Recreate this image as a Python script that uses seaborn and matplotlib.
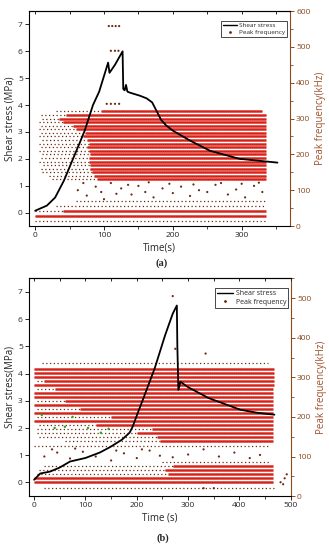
import numpy as np
import matplotlib
matplotlib.use("Agg")
import matplotlib.pyplot as plt
import seaborn as sns
from matplotlib.lines import Line2D
from matplotlib.ticker import MultipleLocator

sns.set_style("white")
plt.rcParams['font.family'] = ['Open Sans', 'DejaVu Sans']
plt.rcParams['font.size'] = 6

BROWN = '#8B4A1E'
BAND_RED = '#e2261e'
DOT_DARK = '#6b2a10'

# ---------------- data: panel (a) ----------------
a_time = [0, 17, 29, 42, 55, 64, 72, 84, 93, 106, 108, 116, 127, 128, 130, 132, 134,
          138, 152, 162, 170, 175, 183, 190, 200, 225, 254, 297, 352]
a_stress = [0.07, 0.26, 0.56, 1.2, 2.0, 2.55, 3.05, 4.0, 4.5, 5.58, 5.2, 5.5, 6.0, 4.6,
            4.55, 4.75, 4.5, 4.46, 4.35, 4.25, 4.1, 3.85, 3.45, 3.25, 3.05, 2.68, 2.3, 2.0, 1.86]

# frequency bands (kHz): solid segment [dense_start, end], dotted segment [sparse_start, dense_start]
a_band_lvl = [130, 140, 150, 160, 170, 180, 190, 200, 210, 220, 230, 240, 250, 260,
              270, 280, 290, 300, 310, 320]
a_band_sparse0 = [25, 20, 10, 8, 12, 5, 8, 10, 5, 8, 5, 10, 5, 8, 5, 8, 5, 10, 8, 30]
a_band_dense0 = [90, 85, 82, 80, 80, 78, 78, 80, 78, 76, 78, 75, 70, 72, 60, 55, 40, 35, 45, 95]
a_band_end = [335, 335, 335, 335, 335, 335, 335, 335, 335, 335, 335, 335, 335, 335,
              335, 335, 335, 335, 335, 330]

a_low_lvl = [15, 28, 42, 56, 70]
a_low_sparse0 = [0, 0, 0, 30, 60]
a_low_dense0 = [335, 0, 40, 335, 335]
a_low_end = [335, 335, 335, 335, 335]

a_pt_time = [62, 75, 88, 96, 110, 118, 125, 140, 150, 160, 172, 185, 200, 212, 225, 238,
             250, 262, 280, 292, 305, 318, 330, 70, 100, 135, 165, 195, 230, 270, 300, 325,
             107, 112, 117, 122, 110, 116, 121, 104, 110, 116, 122]
a_pt_freq = [100, 85, 110, 95, 120, 90, 105, 88, 112, 95, 80, 105, 92, 110, 84, 100,
             95, 115, 88, 102, 80, 112, 95, 120, 75, 115, 122, 118, 116, 120, 118, 121,
             558, 558, 558, 558, 489, 489, 489, 341, 341, 341, 341]

# ---------------- data: panel (b) ----------------
b_time = [0, 12, 31, 50, 70, 100, 128, 148, 171, 186, 192, 202, 212, 235, 255, 270,
          278, 279, 281, 285, 300, 340, 402, 435, 468]
b_stress = [0.1, 0.33, 0.4, 0.55, 0.77, 0.9, 1.1, 1.3, 1.57, 1.83, 2.05, 2.56, 3.05,
            4.2, 5.4, 6.2, 6.5, 5.0, 3.4, 3.7, 3.5, 3.1, 2.67, 2.56, 2.49]

b_band_lvl = [140, 150, 160, 170, 180, 190, 200, 210, 220, 230, 240, 250, 260, 270,
              280, 290, 300, 310, 320]
b_band_sparse0 = [60, 10, 5, 5, 10, 5, 5, 5, 5, 5, 5, 5, 5, 5, 5, 5, 5, 5, 5]
b_band_dense0 = [245, 240, 200, 230, 120, 0, 150, 0, 90, 0, 60, 0, 0, 40, 0, 20, 0, 0, 0]
b_band_end = [465, 465, 465, 465, 465, 465, 465, 465, 465, 465, 465, 465, 465, 465,
              468, 468, 468, 468, 468]

b_low_lvl = [20, 35, 45, 55, 65, 75, 85, 127, 335]
b_low_sparse0 = [20, 0, 0, 5, 10, 20, 250, 0, 15]
b_low_dense0 = [480, 0, 0, 260, 255, 270, 480, 480, 480]
b_low_end = [470, 465, 465, 465, 465, 465, 460, 460, 455]

b_pt_time = [20, 45, 70, 95, 120, 150, 175, 200, 225, 245, 270, 300, 330, 360, 390, 420, 440,
             35, 80, 160, 210, 270, 275, 334, 330, 350, 480, 488, 492, 485]
b_pt_freq = [100, 110, 95, 112, 100, 90, 108, 96, 115, 102, 98, 105, 118, 100, 110, 96, 104,
             118, 120, 115, 118, 505, 372, 360, 20, 20, 35, 45, 55, 30]

b_green_time = [15, 40, 60, 75, 105, 130, 145]
b_green_freq = [205, 172, 175, 200, 172, 160, 170]


def draw_bands(ax2, lvl, sparse0, dense0, end):
    for f, s0, d0, e in zip(lvl, sparse0, dense0, end):
        if d0 > s0:
            ax2.hlines(f, s0, min(d0, e), colors=DOT_DARK, lw=0.9,
                       linestyles=(0, (1, 2.0)), zorder=2)
        if d0 < e:
            ax2.hlines(f, d0, e, colors=BAND_RED, lw=1.8, zorder=2)
            ax2.hlines(f, d0, e, colors=DOT_DARK, lw=0.6,
                       linestyles=(0, (1, 1.6)), alpha=0.6, zorder=3)


def panel(rect, t, s, bands, lows, pts, xlim, xmaj, fmax, xlabel, ylabel, legend_fs, green=None):
    ax = fig.add_axes(rect)
    ax2 = ax.twinx()
    ax.set_zorder(ax2.get_zorder() + 1)
    ax.patch.set_visible(False)

    draw_bands(ax2, *bands)
    draw_bands(ax2, *lows)
    sns.scatterplot(x=pts[0], y=pts[1], ax=ax2, s=2.5, color=DOT_DARK,
                    edgecolor='none', zorder=3)
    if green is not None:
        sns.scatterplot(x=green[0], y=green[1], ax=ax2, s=3, color='#22aa22',
                        edgecolor='none', zorder=3)

    sns.lineplot(x=t, y=s, ax=ax, color='black', lw=1.3, sort=False, estimator=None, zorder=5)

    ax.set_xlim(*xlim)
    ax.set_ylim(-0.5, 7.5)
    ax2.set_ylim(0, fmax)
    ax.xaxis.set_major_locator(MultipleLocator(xmaj))
    ax.xaxis.set_minor_locator(MultipleLocator(xmaj / 2))
    ax.yaxis.set_major_locator(MultipleLocator(1))
    ax2.yaxis.set_major_locator(MultipleLocator(100))
    ax2.yaxis.set_minor_locator(MultipleLocator(50))

    ax.tick_params(axis='both', which='major', direction='out', length=3, width=0.7,
                   labelsize=6, pad=1.5, bottom=True, left=True)
    ax.tick_params(axis='x', which='minor', direction='out', length=2, width=0.6, bottom=True)
    ax2.tick_params(axis='y', which='major', direction='out', length=3, width=0.7,
                    colors=BROWN, labelsize=6, pad=1.5)
    ax2.tick_params(axis='y', which='minor', direction='out', length=2, width=0.6, colors=BROWN)

    top = ax.secondary_xaxis('top')
    top.xaxis.set_major_locator(MultipleLocator(xmaj / 2))
    top.tick_params(direction='in', length=2.5, width=0.7, labeltop=False)

    for sp in ['left', 'bottom', 'top']:
        ax.spines[sp].set_linewidth(0.8)
        ax.spines[sp].set_color('black')
    ax.spines['right'].set_visible(False)
    ax2.spines['right'].set_color(BROWN)
    ax2.spines['right'].set_linewidth(0.8)
    for sp in ['left', 'bottom', 'top']:
        ax2.spines[sp].set_visible(False)

    ax.set_xlabel(xlabel, fontsize=7, labelpad=2)
    ax.set_ylabel(ylabel, fontsize=7, labelpad=2)
    ax2.set_ylabel('Peak frequency(kHz)', fontsize=7, color='#a0522d', labelpad=3)
    ax.grid(False)
    ax2.grid(False)

    handles = [Line2D([], [], color='black', lw=1),
               Line2D([], [], ls='none', marker='.', ms=2, color=DOT_DARK)]
    ax.legend(handles, ['Shear stress', 'Peak frequency'], loc='upper right',
              fontsize=legend_fs, frameon=True, fancybox=False, edgecolor='black',
              framealpha=1, borderpad=0.3, handlelength=2.2, handletextpad=0.4,
              labelspacing=0.2, bbox_to_anchor=(0.995, 0.96), borderaxespad=0.2)
    ax.get_legend().get_frame().set_linewidth(0.5)
    return ax, ax2


fig = plt.figure(figsize=(3.29, 5.5), dpi=100)

panel([0.088, 0.589, 0.793, 0.391], a_time, a_stress,
      (a_band_lvl, a_band_sparse0, a_band_dense0, a_band_end),
      (a_low_lvl, a_low_sparse0, a_low_dense0, a_low_end),
      (a_pt_time, a_pt_freq), (-9, 370), 100, 600,
      'Time(s)', 'Shear stress (MPa)', 4.6)

panel([0.088, 0.098, 0.796, 0.396], b_time, b_stress,
      (b_band_lvl, b_band_sparse0, b_band_dense0, b_band_end),
      (b_low_lvl, b_low_sparse0, b_low_dense0, b_low_end),
      (b_pt_time, b_pt_freq), (-10, 500), 100, 550,
      'Time (s)', 'Shear stress(MPa)', 5.0, green=(b_green_time, b_green_freq))

fig.text(0.49, 1 - 263 / 550, '(a)', ha='center', va='center', fontsize=7.5,
         fontweight='bold', family='Liberation Serif')
fig.text(0.495, 1 - 538 / 550, '(b)', ha='center', va='center', fontsize=7.5,
         fontweight='bold', family='Liberation Serif')

fig.savefig('out.png', dpi=100)
